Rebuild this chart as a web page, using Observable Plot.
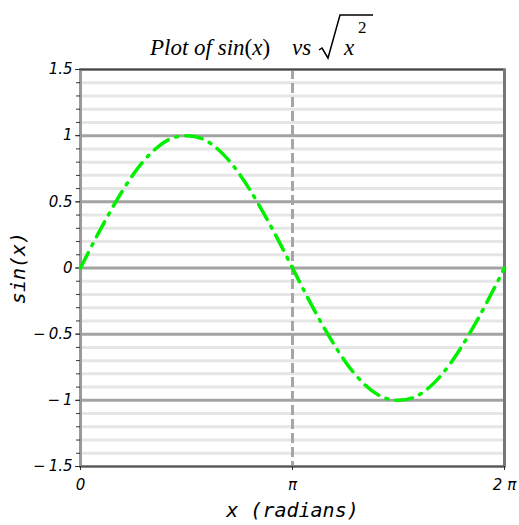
<!DOCTYPE html>
<html>
<head>
<meta charset="utf-8">
<script src="https://cdn.jsdelivr.net/npm/d3@7"></script>
<script src="https://cdn.jsdelivr.net/npm/@observablehq/plot@0.6"></script>
<style>
  body { margin: 0; background: #fff; }
  #title { height: 50px; position: relative; font-family: "Liberation Serif", serif; font-style: italic; font-size: 23px; line-height: 1; color: #000; }
  #title span { position: absolute; white-space: nowrap; }
  #title svg { position: absolute; left: 0; top: 0; }
  #chart svg text { font-style: italic; }
</style>
</head>
<body>
<div id="title">
  <span style="left:150px; top:36px;">Plot of sin<span style="position:static;font-style:normal">(</span>x<span style="position:static;font-style:normal">)</span></span>
  <span style="left:292px; top:36px;">vs</span>
  <span style="left:344px; top:36px;">x</span>
  <span style="left:358px; top:19px; font-style:normal; font-size:17px;">2</span>
  <svg width="400" height="62" style="overflow:visible"><path d="M319,50 L322,48 L328,58 L340,15 L373,15" fill="none" stroke="#000" stroke-width="1.5"/></svg>
</div>
<div id="chart"></div>
<script>
const xs = [0, 0.2618, 0.5236, 0.7854, 1.0472, 1.309, 1.5708, 1.8326, 2.0944, 2.3562, 2.618, 2.8798, 3.1416, 3.4034, 3.6652, 3.927, 4.1888, 4.4506, 4.7124, 4.9742, 5.236, 5.4978, 5.7596, 6.0214, 6.2832];
const ys = [0, 0.26, 0.5, 0.71, 0.87, 0.97, 1, 0.97, 0.87, 0.71, 0.5, 0.26, 0, -0.26, -0.5, -0.71, -0.87, -0.97, -1, -0.97, -0.87, -0.71, -0.5, -0.26, 0];
const xTicks = [0, 3.14159, 6.28318];
const xTickLabels = ["0", "π", "2 π"];
const yMajor = [-1.5, -1, -0.5, 0, 0.5, 1, 1.5];
const yMinor = d3.range(-15, 16).map(i => i / 10);

const data = xs.map((x, i) => ({x, y: ys[i]}));
const fmtY = d => (d < 0 ? "−\u2009" : "") + Math.abs(d).toString();

const plot = Plot.plot({
  width: 519,
  height: 475,
  marginLeft: 80,
  marginRight: 15,
  marginTop: 19,
  marginBottom: 59,
  x: {domain: [0, 6.28318]},
  y: {domain: [-1.5, 1.5]},
  style: {fontFamily: "DejaVu Sans", background: "#fff", overflow: "visible"},
  marks: [
    Plot.ruleY(yMinor.filter(v => !yMajor.includes(v)), {stroke: "#e6e6e6", strokeWidth: 3}),
    Plot.ruleY(yMajor.filter(v => Math.abs(v) !== 1.5), {stroke: "#a3a3a3", strokeWidth: 3}),
    Plot.ruleX([3.14159], {stroke: "#a6a6a6", strokeWidth: 3, strokeDasharray: "10,4"}),
    Plot.frame({stroke: "#999", strokeWidth: 3}),
    Plot.ruleY([1.5], {stroke: "#444", strokeWidth: 1.5}),
    Plot.ruleY([-1.5], {stroke: "#555", strokeWidth: 1.5}),
    Plot.ruleX([6.28318], {stroke: "#777", strokeWidth: 3}),
    Plot.axisY(yMinor, {tickSize: 4, tickFormat: () => "", label: null, stroke: "#333"}),
    Plot.axisY(yMajor, {tickSize: 5, tickPadding: 3, tickFormat: fmtY, fontSize: 15, label: null, stroke: "#333", fill: "#000"}),
    Plot.axisX(xTicks, {tickSize: 4, tickPadding: 9, tickFormat: (d, i) => xTickLabels[i], fontSize: 15, label: null, stroke: "#333", fill: "#000"}),
    Plot.text(["x (radians)"], {frameAnchor: "bottom", dy: 50, fontFamily: "DejaVu Sans Mono", fontSize: 20, fill: "#000"}),
    Plot.text(["sin(x)"], {frameAnchor: "left", textAnchor: "middle", dx: -62, rotate: -90, fontFamily: "DejaVu Sans Mono", fontSize: 20, fill: "#000"}),
    Plot.line(data, {x: "x", y: "y", curve: "natural", stroke: "#00f000", strokeWidth: 3.5, strokeDasharray: "17,8,2,8", strokeLinecap: "round"})
  ]
});
document.getElementById("chart").appendChild(plot);
</script>
</body>
</html>
